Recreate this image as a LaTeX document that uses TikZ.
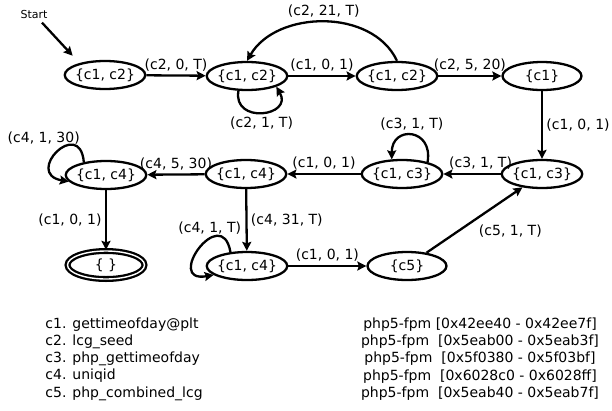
\documentclass[tikz,border=0pt]{standalone}
\usepackage{fontspec}
\setmainfont{DejaVu Sans}
\usetikzlibrary{shapes.geometric,arrows.meta}

\begin{document}
\begin{tikzpicture}[x=1pt,y=1pt,->,>={Stealth[length=9pt,width=9pt,inset=1.5pt]},line width=2.3pt,font=\fontsize{14}{17.2}\selectfont]
		\tikzstyle{state}=[ellipse,draw,minimum width=79pt,minimum height=28pt,inner sep=-1.5pt]
		\tikzstyle{accept}=[state,double,double distance=1.4pt,minimum width=77pt,minimum height=28pt]
		\useasboundingbox (0,0) rectangle (612,-410);
		
		\node (start) at (34,-14) {\fontsize{11}{14}\selectfont Start};
		\node[state] (s0) at (105,-75) {\{c1, c2\}};
		\node[state] (a) at (247,-76) {\{c1, c2\}};
		\node[state] (b) at (397,-76) {\{c1, c2\}};
		\node[state] (c) at (542,-76) {\{c1\}};
		\node[state] (d) at (542,-174) {\{c1, c3\}};
		\node[state] (e) at (402,-174) {\{c1, c3\}};
		\node[state] (f) at (246,-174) {\{c1, c4\}};
		\node[state] (g) at (106,-175) {\{c1, c4\}};
		\node[accept] (h) at (106,-265) {\{\ \}};
		\node[state] (i) at (247,-266) {\{c1, c4\}};
		\node[state] (j) at (407,-266) {\{c5\}};
		
		\draw[shorten >=10pt] (start) -- (s0.155);
		\draw (s0) edge node[above] {(c2, 0, T)} (a);
		\draw (a.240) to[out=260, in=300, looseness=2.3] node[below] {(c2, 1, T)} (a.340);
		\draw (a) edge node[above] {(c1, 0, 1)} (b);
		\draw (b.north) to[out=115, in=60, looseness=1] node[above] {(c2, 21, T)} (a.north);
		\draw (b) edge node[above] {(c2, 5, 20)} (c);
		\draw (c) edge node[right] {(c1, 0, 1)} (d);
		\draw (d) edge node[above, pos=.35] {(c3, 1, T)} (e);
		\draw (e.25) to[out=80, in=90, looseness=2.45] node[above] {(c3, 1, T)} (e.125);
		\draw (e) edge node[above] {(c1, 0, 1)} (f);
		\draw (f) edge node[above] {(c4, 5, 30)} (g);
		\draw (g.150) to[out=95, in=170, looseness=4.8] node[pos=.35, above left, inner sep=0pt, xshift=14pt] {(c4, 1, 30)} (g.190);
		\draw (g) edge node[left] {(c1, 0, 1)} (h);
		\draw (f) edge node[right] {(c4, 31, T)} (i);
		\draw (i.140) to[out=100, in=190, looseness=4.6] node[pos=.35, above] {(c4, 1, T)} (i.195);
		\draw (i) edge node[above] {(c1, 0, 1)} (j);
		\draw (j) edge node[below right] {(c5, 1, T)} (d);
		
		\node[align=left, anchor=west] (keys) at (41,-359) {c1. gettimeofday@plt\\c2. lcg\_seed\\c3. php\_gettimeofday\\c4. uniqid\\c5. php\_combined\_lcg};
		\node[align=center] (ranges) at (480,-359) {php5-fpm [0x42ee40 - 0x42ee7f]\\php5-fpm\ \ [0x5eab00 - 0x5eab3f]\\php5-fpm\ \ [0x5f0380 - 0x5f03bf]\\php5-fpm\ \ [0x6028c0 - 0x6028ff]\\php5-fpm\ \ [0x5eab40 - 0x5eab7f]};
\end{tikzpicture}
\end{document}
